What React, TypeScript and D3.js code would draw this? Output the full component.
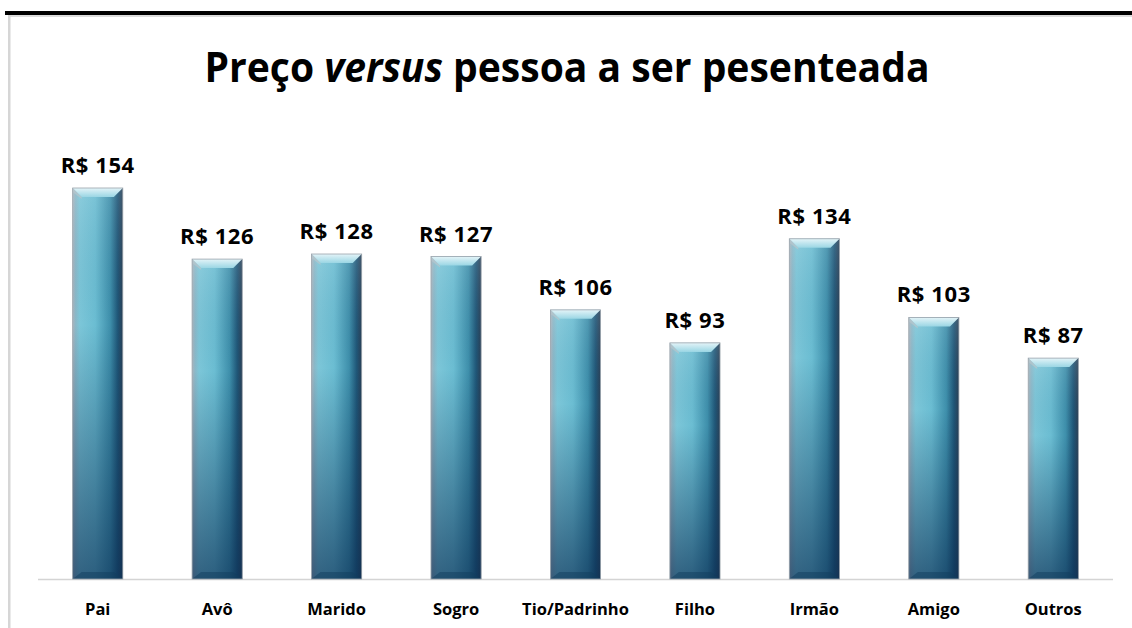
import React from "react";
import * as d3 from "d3";

const categories = ["Pai", "Avô", "Marido", "Sogro", "Tio/Padrinho", "Filho", "Irmão", "Amigo", "Outros"];
const values = [154, 126, 128, 127, 106, 93, 134, 103, 87];
const valueLabels = ["R$ 154", "R$ 126", "R$ 128", "R$ 127", "R$ 106", "R$ 93", "R$ 134", "R$ 103", "R$ 87"];

const W = 1132;
const H = 628;
const font = "'Open Sans', 'Noto Sans', sans-serif";

export default function App() {
  // plot area
  const left = 38;
  const right = 1113;
  const baseline = 579;

  const x = d3.scaleBand().domain(categories).range([left, right]).paddingInner(0.58).paddingOuter(0.29);
  const y = d3.scaleLinear().domain([0, 180]).range([baseline, baseline - 180 * (391 / 154)]);
  const bw = x.bandwidth();
  const bevel = 9;

  return (
    <div style={{ position: "absolute", left: 0, top: 0 }}>
      <svg width={W} height={H} style={{ display: "block" }}>
        <defs>
          <linearGradient id="side" x1="0" x2="1" y1="0" y2="0">
            <stop offset="0" stopColor="#a9b4bd" />
            <stop offset="0.06" stopColor="#8ab8c8" />
            <stop offset="0.14" stopColor="#7cc6d8" />
            <stop offset="0.45" stopColor="#6bbdd2" />
            <stop offset="0.75" stopColor="#3e8fab" />
            <stop offset="0.9" stopColor="#1f5677" />
            <stop offset="1" stopColor="#2a3f55" />
          </linearGradient>
          <linearGradient id="shade" x1="0" x2="0" y1="0" y2="1">
            <stop offset="0" stopColor="#ffffff" stopOpacity="0.12" />
            <stop offset="0.35" stopColor="#0a2c52" stopOpacity="0" />
            <stop offset="1" stopColor="#0a2c52" stopOpacity="0.65" />
          </linearGradient>
          <linearGradient id="cap" x1="0" x2="0" y1="0" y2="1">
            <stop offset="0" stopColor="#e4f4f8" />
            <stop offset="1" stopColor="#9ad6e4" />
          </linearGradient>
        </defs>
        <rect x={0} y={0} width={W} height={H} fill="#ffffff" />
        {/* frame */}
        <rect x={5} y={11} width={W - 5} height={4} fill="#000" />
        <rect x={8} y={15} width={W - 8} height={2} fill="#dcdcdc" />
        <rect x={8} y={15} width={2.5} height={H - 15} fill="#d6d6d6" />

        <text
          x={567}
          y={82}
          textAnchor="middle"
          fontFamily={font}
          fontWeight="bold"
          fontSize={41}
          fill="#000"
          textLength={725}
          lengthAdjust="spacingAndGlyphs"
        >
          Preço <tspan fontStyle="italic">versus</tspan> pessoa a ser pesenteada
        </text>

        <line x1={left} x2={right} y1={baseline + 0.5} y2={baseline + 0.5} stroke="#d4d4d4" strokeWidth={1.5} />

        {categories.map((c, i) => {
          const bx = x(c)!;
          const by = y(values[i]);
          const h = baseline - by;
          return (
            <g key={c}>
              <rect x={bx} y={by} width={bw} height={h} fill="url(#side)" />
              <rect x={bx} y={by} width={bw} height={h} fill="url(#shade)" />
              <path
                d={`M${bx},${by} L${bx + bw},${by} L${bx + bw - bevel},${by + bevel} L${bx + bevel},${by + bevel} Z`}
                fill="url(#cap)"
              />
              <path d={`M${bx},${by} L${bx + bevel},${by + bevel} L${bx + bevel},${by + bevel + 2} L${bx},${by + 4} Z`} fill="#b9c6cc" opacity={0.7} />
              <path
                d={`M${bx},${baseline} L${bx + bw},${baseline} L${bx + bw - bevel},${baseline - 7} L${bx + bevel},${baseline - 7} Z`}
                fill="#123e5e"
                opacity={0.5}
              />
              <rect x={bx} y={by} width={bw} height={h} fill="none" stroke="#9aa4ac" strokeWidth={0.8} />
              <text
                x={bx + bw / 2}
                y={by - 15}
                textAnchor="middle"
                fontFamily={font}
                fontWeight="bold"
                fontSize={22}
                letterSpacing={0.6}
                fill="#000"
              >
                {valueLabels[i]}
              </text>
              <text
                x={bx + bw / 2}
                y={615}
                textAnchor="middle"
                fontFamily={font}
                fontWeight="bold"
                fontSize={16.5}
                fill="#000"
              >
                {c}
              </text>
            </g>
          );
        })}
      </svg>
    </div>
  );
}
